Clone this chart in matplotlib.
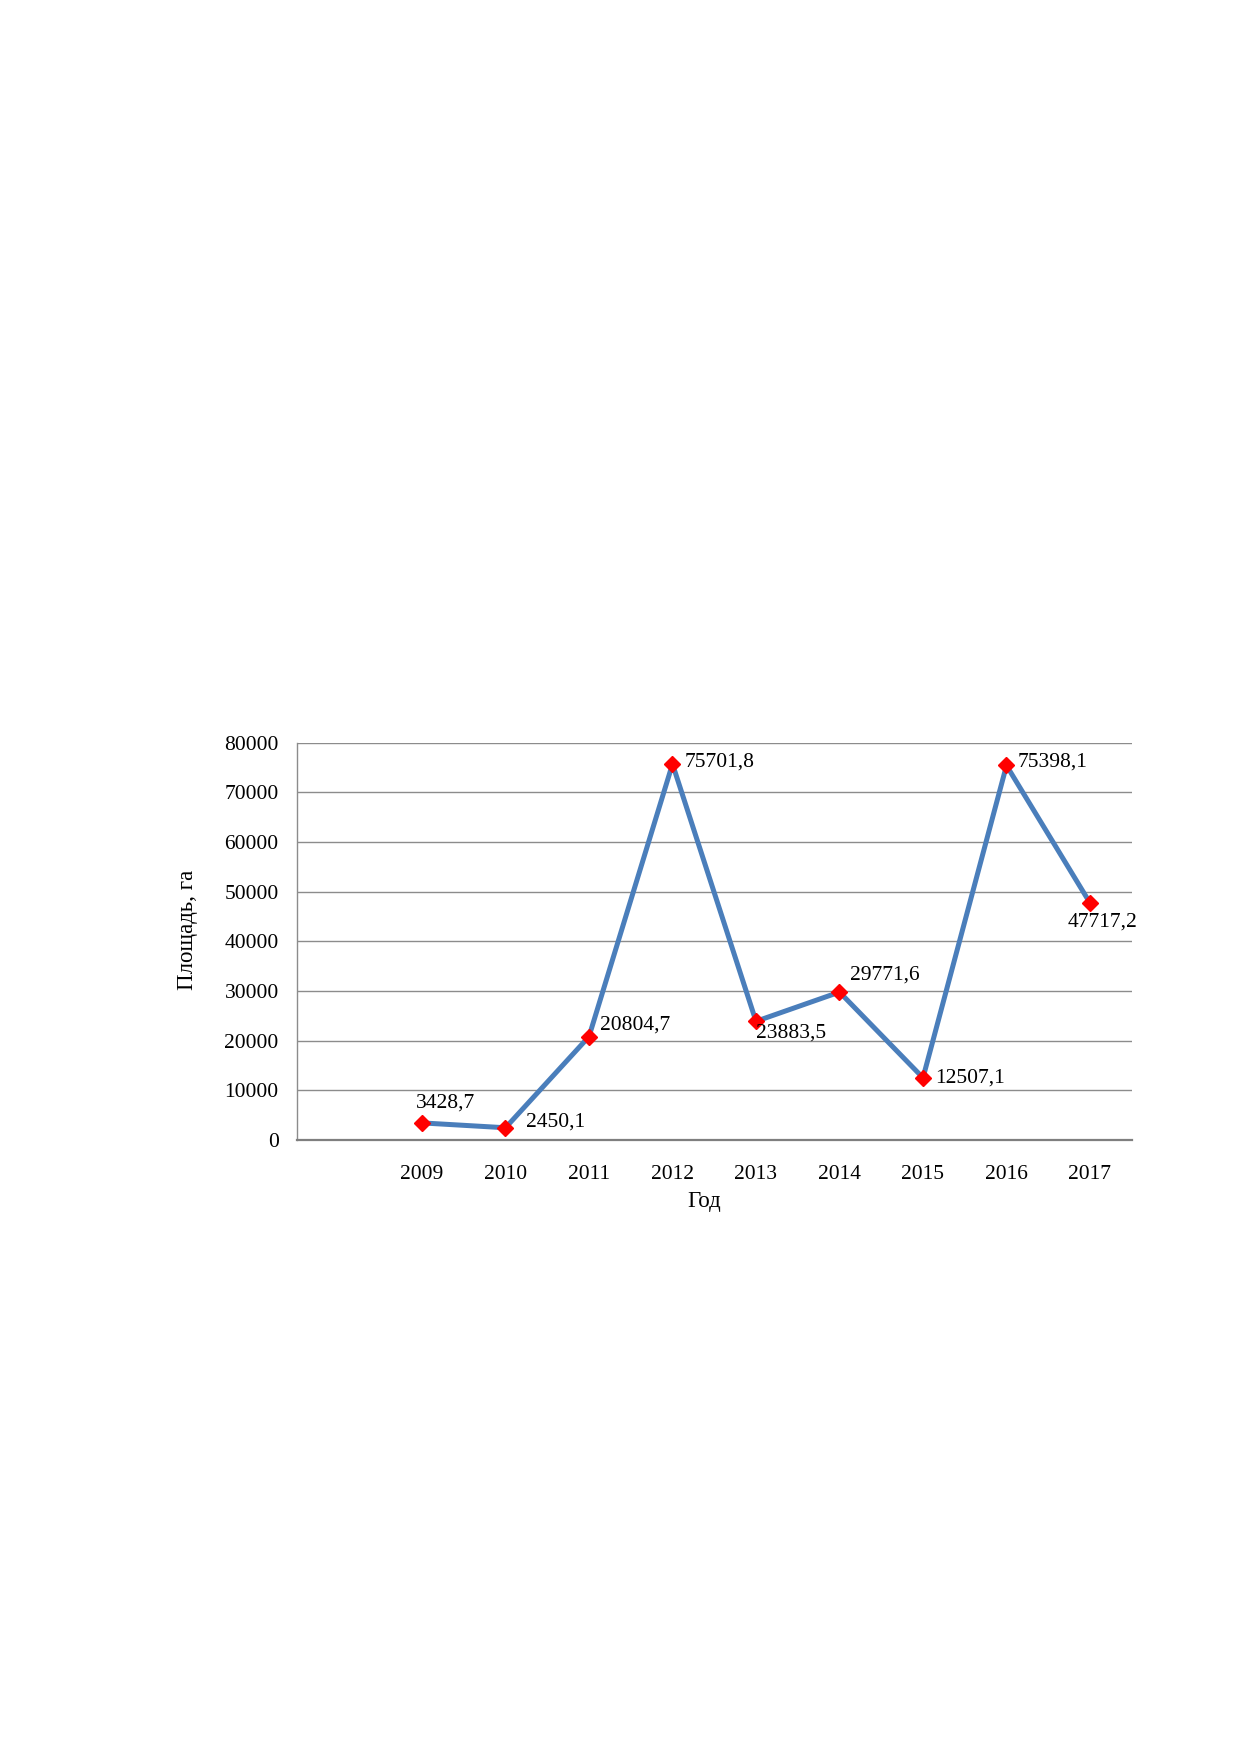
import matplotlib
matplotlib.use("Agg")
import matplotlib.pyplot as plt

# data
years = ["", "2009", "2010", "2011", "2012", "2013", "2014", "2015", "2016", "2017"]
area = [3428.7, 2450.1, 20804.7, 75701.8, 23883.5, 29771.6, 12507.1, 75398.1, 47717.2]
yticks = [0, 10000, 20000, 30000, 40000, 50000, 60000, 70000, 80000]

# label offsets (pixels) for each data label
label_dx = [-6, 21, 11, 12, 0, 11, 12, 11, -22]
label_dy = [20, 6, 12, 2, -12, 17, 0, 3, -19]

plt.rcParams['font.family'] = ['Liberation Serif', 'DejaVu Serif']

fig = plt.figure(figsize=(12.4, 17.54), dpi=100)
ax = fig.add_axes([0.2393, 0.3501, 0.6734, 0.2265])

x = list(range(1, len(years)))
ax.plot(x, area, color='#4a7ebb', linewidth=3.6, zorder=3,
        marker='D', markersize=8.5, markerfacecolor='#ff0000',
        markeredgecolor='#ff0000')

for xi, v, dx, dy in zip(x, area, label_dx, label_dy):
    txt = f"{v:.1f}".replace('.', ',')
    ax.annotate(txt, (xi, v), xytext=(dx, dy), textcoords='offset pixels',
                ha='left', va='center', fontsize=15.5, color='black', zorder=4)

ax.set_xlim(-0.5, len(years) - 0.5)
ax.set_ylim(0, 80000)
ax.set_xticks(range(len(years)))
ax.set_xticklabels(years)
ax.set_yticks(yticks)
ax.set_yticklabels([str(t) for t in yticks])
ax.tick_params(axis='both', length=0, labelsize=15.5)
ax.tick_params(axis='y', pad=13)
ax.tick_params(axis='x', pad=18)

ax.grid(axis='y', color='#8c8c8c', linewidth=1.0)
ax.set_axisbelow(True)
for s in ['top', 'right']:
    ax.spines[s].set_visible(False)
ax.spines['left'].set_color('#8c8c8c')
ax.spines['left'].set_linewidth(1.0)
ax.spines['bottom'].set_color('#7f7f7f')
ax.spines['bottom'].set_linewidth(1.6)

fig.text(187 / 1240, 1 - 930 / 1754, "Площадь, га", rotation=90,
         ha='center', va='center', fontsize=16.5)
fig.text(704 / 1240, 1 - 1202 / 1754, "Год", ha='center', va='center',
         fontsize=16.5)

fig.savefig("out.png", dpi=100)
